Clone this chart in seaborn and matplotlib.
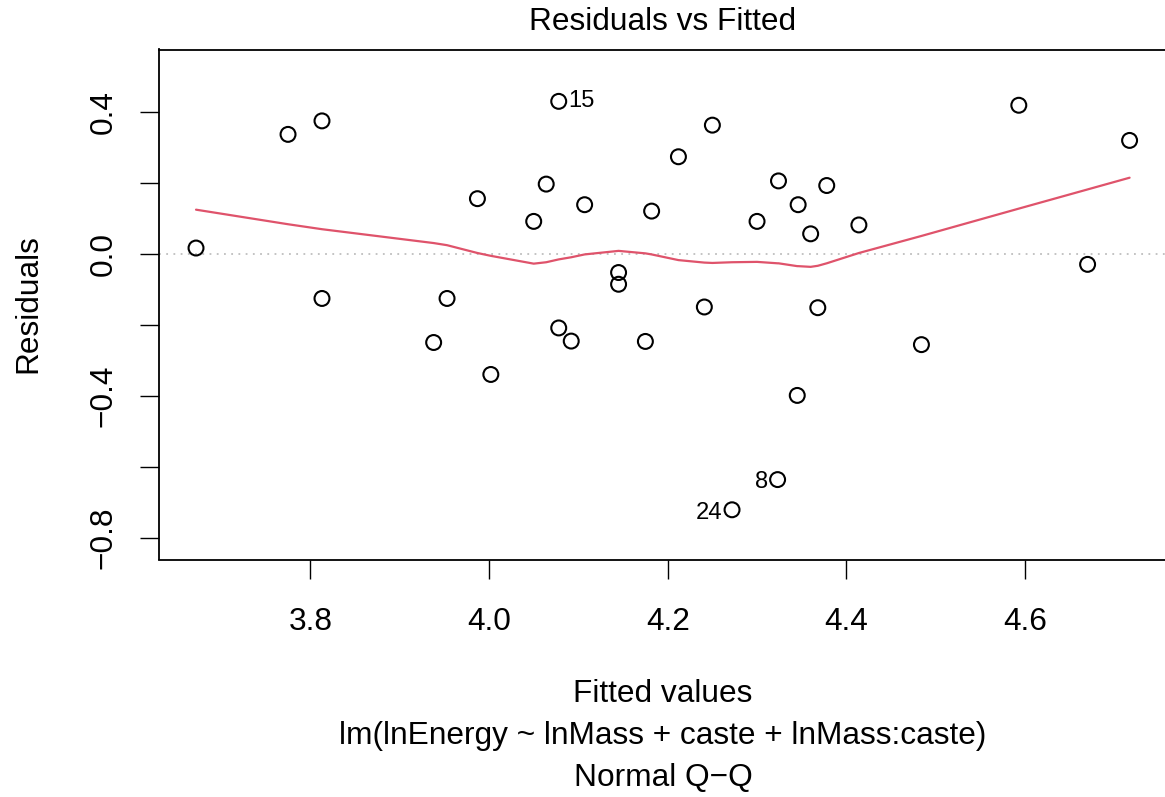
import numpy as np
import pandas as pd
import matplotlib
matplotlib.use("Agg")
import matplotlib.pyplot as plt
import seaborn as sns

# fitted values and residuals (sorted by fitted value)
fitted = [3.672, 3.775, 3.813, 3.813, 3.938, 3.953, 3.987, 4.002, 4.050, 4.064,
          4.078, 4.078, 4.092, 4.107, 4.145, 4.145, 4.175, 4.182, 4.212, 4.241,
          4.250, 4.272, 4.300, 4.323, 4.324, 4.345, 4.346, 4.360, 4.368, 4.378,
          4.414, 4.484, 4.593, 4.670, 4.717]
residuals = [0.017, 0.337, 0.375, -0.125, -0.249, -0.125, 0.156, -0.339, 0.092, 0.197,
             0.430, -0.208, -0.245, 0.139, -0.052, -0.085, -0.246, 0.121, 0.274, -0.149,
             0.363, -0.720, 0.092, -0.635, 0.206, -0.398, 0.139, 0.057, -0.151, 0.193,
             0.082, -0.255, 0.419, -0.029, 0.320]
# lowess smooth at each fitted value
smooth = [0.125, 0.084, 0.070, 0.070, 0.031, 0.025, 0.003, -0.005, -0.027, -0.023,
          -0.015, -0.015, -0.009, -0.001, 0.009, 0.009, 0.002, -0.001, -0.017, -0.024,
          -0.025, -0.023, -0.022, -0.026, -0.026, -0.034, -0.034, -0.036, -0.033, -0.026,
          0.003, 0.051, 0.128, 0.182, 0.215]
id_points = {"15": 10, "24": 21, "8": 23}

x_ticks = [3.8, 4.0, 4.2, 4.4, 4.6]
y_ticks = [-0.8, -0.6, -0.4, -0.2, 0.0, 0.2, 0.4]
y_labels = ["\u22120.8", "", "\u22120.4", "", "0.0", "", "0.4"]

df = pd.DataFrame({"fitted": fitted, "resid": residuals, "smooth": smooth})

sns.set_theme(style="white")
plt.rcParams["font.family"] = ["Liberation Sans", "DejaVu Sans"]
plt.rcParams["text.color"] = "black"
plt.rcParams["axes.labelcolor"] = "black"
plt.rcParams["xtick.color"] = "black"
plt.rcParams["ytick.color"] = "black"
fs = 22.8

W, H = 1165, 797
fig = plt.figure(figsize=(W / 100, H / 100), dpi=100)
left, right, top, bottom = 158.5, 1168, 49.5, 559.5
ax = fig.add_axes([left / W, 1 - bottom / H, (right - left) / W, (bottom - top) / H])

ax.axhline(0, color="#BEBEBE", lw=1.3, ls=(0, (1, 3)), zorder=1)
sns.lineplot(data=df, x="fitted", y="smooth", color="#DF536B", lw=1.6,
             estimator=None, sort=True, ax=ax, zorder=2)
sns.scatterplot(data=df, x="fitted", y="resid", marker="o", s=115,
                facecolor="none", edgecolor="black", linewidth=1.5, ax=ax, zorder=3)

for lab, i in id_points.items():
    if lab == "15":
        ax.annotate(lab, (fitted[i], residuals[i]), xytext=(7, 0), textcoords="offset points",
                    ha="left", va="center", fontsize=fs * 0.75, color="black")
    else:
        ax.annotate(lab, (fitted[i], residuals[i]), xytext=(-7, -2), textcoords="offset points",
                    ha="right", va="center", fontsize=fs * 0.75, color="black")

ax.set_xlim(3.630, 4.760)
ax.set_ylim(-0.860, 0.576)
ax.set_xticks(x_ticks)
ax.set_xticklabels([f"{v:.1f}" for v in x_ticks], fontsize=fs)
ax.set_yticks(y_ticks)
ax.set_yticklabels(y_labels, fontsize=fs, rotation=90, va="center")
ax.tick_params(axis="both", direction="out", length=13.5, width=1.0, color="black",
               labelcolor="black", bottom=True, left=True)
ax.tick_params(axis="x", pad=21)
ax.tick_params(axis="y", pad=15)
for s in ["left", "bottom", "top"]:
    ax.spines[s].set_visible(True)
    ax.spines[s].set_color("black")
    ax.spines[s].set_linewidth(1.3)
ax.spines["right"].set_visible(False)
ax.set_xlabel("")
ax.set_ylabel("")

fig.text(28 / W, 1 - 304 / H, "Residuals", rotation=90, ha="center", va="center", fontsize=fs)
fig.text(663 / W, 1 - 22 / H, "Residuals vs Fitted", ha="center", va="center", fontsize=fs)
fig.text(663 / W, 1 - 694 / H, "Fitted values", ha="center", va="center", fontsize=fs)
fig.text(663 / W, 1 - 736 / H, "lm(lnEnergy ~ lnMass + caste + lnMass:caste)",
         ha="center", va="center", fontsize=fs)
fig.text(663 / W, 1 - 778 / H, "Normal Q\u2212Q", ha="center", va="center", fontsize=fs)

fig.savefig("out.png", dpi=100, facecolor="white")
